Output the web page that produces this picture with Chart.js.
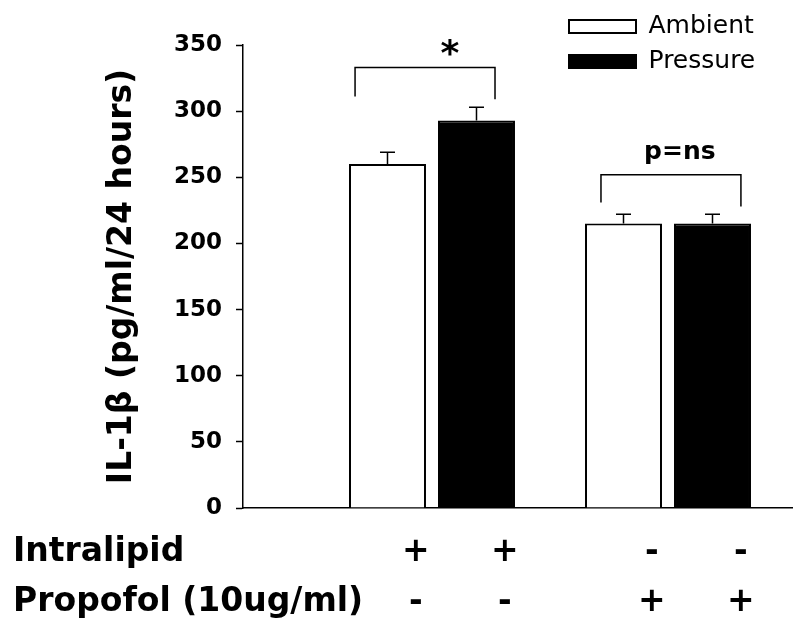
<!DOCTYPE html>
<html>
<head>
<meta charset="utf-8">
<script src="https://cdn.jsdelivr.net/npm/chart.js@4.4.1/dist/chart.umd.min.js"></script>
<style>
  html, body { margin: 0; padding: 0; background: #fff; }
  #wrap { width: 800px; height: 638px; }
</style>
</head>
<body>
<div id="wrap"><canvas id="il1bChart" width="800" height="638"></canvas></div>
<script>
// x positions of the two treatment groups (1 = Intralipid, 2 = Propofol)
const groups = [1, 2];
const ambient = [260, 215];
const ambientErr = [9, 7];
const pressure = [293, 215];
const pressureErr = [10, 7];
// +/- rows under the bars (one entry per bar)
const intralipidRow = ['+', '+', '-', '-'];
const propofolRow = ['-', '-', '+', '+'];
const rowNames = ['Intralipid', 'Propofol (10ug/ml)'];
const sigLabels = ['*', 'p=ns'];

const FONT = 'DejaVu Sans';
Chart.defaults.font.family = FONT;
Chart.defaults.color = '#000';

// brackets above the groups, in axis units
const sigMarks = [
  { x1: 0.674, x2: 1.267, top: 333, left: 311, right: 309, text: sigLabels[0], tx: 1.076, ty: 335, size: 36 },
  { x1: 1.716, x2: 2.309, top: 252, left: 231, right: 228, text: sigLabels[1], tx: 2.05, ty: 264, size: 25 }
];

// where the +/- marks sit: a bit right of each bar centre
const barHalf = 0.1886, labelShift = 0.12;
const labelPos = [];
groups.forEach(g => {
  labelPos.push(g - barHalf + labelShift, g + barHalf + labelShift);
});

const xMin = 0.1992, xMax = 2.5254;

const errorBars = {
  id: 'errorBars',
  afterDatasetsDraw(chart) {
    const { ctx } = chart;
    const y = chart.scales.y;
    const errs = [ambientErr, pressureErr];
    ctx.save();
    ctx.strokeStyle = '#000';
    ctx.lineWidth = 1.5;
    chart.data.datasets.forEach((ds, di) => {
      chart.getDatasetMeta(di).data.forEach((bar, i) => {
        const top = y.getPixelForValue(ds.data[i].y + errs[di][i]);
        ctx.beginPath();
        ctx.moveTo(bar.x, bar.y);
        ctx.lineTo(bar.x, top);
        ctx.moveTo(bar.x - 7.5, top);
        ctx.lineTo(bar.x + 7.5, top);
        ctx.stroke();
      });
    });
    ctx.restore();
  }
};

const annotations = {
  id: 'annotations',
  afterDraw(chart) {
    const { ctx } = chart;
    const x = chart.scales.x, y = chart.scales.y, x2 = chart.scales.x2;
    ctx.save();
    ctx.strokeStyle = '#000';
    ctx.fillStyle = '#000';
    ctx.lineWidth = 1.5;
    sigMarks.forEach(m => {
      const l = x.getPixelForValue(m.x1), r = x.getPixelForValue(m.x2);
      const t = y.getPixelForValue(m.top);
      ctx.beginPath();
      ctx.moveTo(l, y.getPixelForValue(m.left));
      ctx.lineTo(l, t);
      ctx.lineTo(r, t);
      ctx.lineTo(r, y.getPixelForValue(m.right));
      ctx.stroke();
      ctx.font = 'bold ' + m.size + 'px "' + FONT + '"';
      ctx.textAlign = 'center';
      ctx.textBaseline = 'alphabetic';
      ctx.fillText(m.text, x.getPixelForValue(m.tx), y.getPixelForValue(m.ty));
    });
    // row names at the left of the +/- rows
    const f = x2.options.ticks.font;
    const lh = f.size * f.lineHeight;
    ctx.font = 'bold ' + f.size + 'px "' + FONT + '"';
    ctx.textAlign = 'left';
    ctx.textBaseline = 'middle';
    rowNames.forEach((name, i) => {
      ctx.fillText(name, 13, x2.top + x2.options.ticks.padding + lh / 2 + i * lh);
    });
    ctx.restore();
  }
};

const legendPlace = {
  id: 'legendPlace',
  afterLayout(chart) {
    const lg = chart.legend;
    lg.left = 559;
    lg.top = 4;
    lg.right = lg.left + lg.width;
    lg.bottom = lg.top + lg.height;
  }
};

new Chart(document.getElementById('il1bChart'), {
  type: 'bar',
  data: {
    datasets: [
      {
        label: 'Ambient',
        data: groups.map((g, i) => ({ x: g, y: ambient[i] })),
        backgroundColor: '#fff',
        borderColor: '#000',
        borderWidth: 2
      },
      {
        label: 'Pressure',
        data: groups.map((g, i) => ({ x: g, y: pressure[i] })),
        backgroundColor: '#000',
        borderColor: '#000',
        borderWidth: 2
      }
    ]
  },
  options: {
    responsive: false,
    animation: false,
    events: [],
    categoryPercentage: 0.7542,
    barPercentage: 0.865,
    layout: { padding: { left: 0, top: 45, right: 8, bottom: 0 } },
    plugins: {
      tooltip: { enabled: false },
      legend: {
        position: 'chartArea',
        align: 'start',
        labels: {
          boxWidth: 67,
          boxHeight: 13,
          padding: 10,
          color: '#000',
          font: { size: 25 }
        }
      }
    },
    scales: {
      x: {
        type: 'linear',
        display: false,
        offset: false,
        min: xMin,
        max: xMax,
        grid: { offset: false },
        afterBuildTicks(scale) { scale.ticks = groups.map(v => ({ value: v })); }
      },
      x2: {
        type: 'linear',
        position: 'bottom',
        offset: false,
        min: xMin,
        max: xMax,
        grid: { display: false, offset: false, drawTicks: false, tickLength: 0 },
        border: { display: true, color: '#000', width: 1.5 },
        afterBuildTicks(scale) { scale.ticks = labelPos.map(v => ({ value: v })); },
        afterFit(scale) { scale.height = 130; },
        ticks: {
          autoSkip: false,
          maxRotation: 0,
          padding: 20,
          color: '#000',
          font: { size: 33, weight: 'bold', lineHeight: 1.5 },
          callback: (v, i) => [intralipidRow[i], propofolRow[i]]
        }
      },
      y: {
        min: 0,
        max: 350,
        afterFit(scale) { scale.width = 243; },
        grid: { drawOnChartArea: false, drawTicks: true, tickLength: 7, tickColor: '#000', tickWidth: 1.5 },
        border: { display: true, color: '#000', width: 1.5 },
        ticks: {
          stepSize: 50,
          padding: 14,
          color: '#000',
          font: { size: 23, weight: 'bold' }
        },
        title: {
          display: true,
          text: 'IL-1β (pg/ml/24 hours)',
          color: '#000',
          padding: { top: 103, bottom: 0 },
          font: { size: 33, weight: 'bold' }
        }
      }
    }
  },
  plugins: [errorBars, annotations, legendPlace]
});
</script>
</body>
</html>
